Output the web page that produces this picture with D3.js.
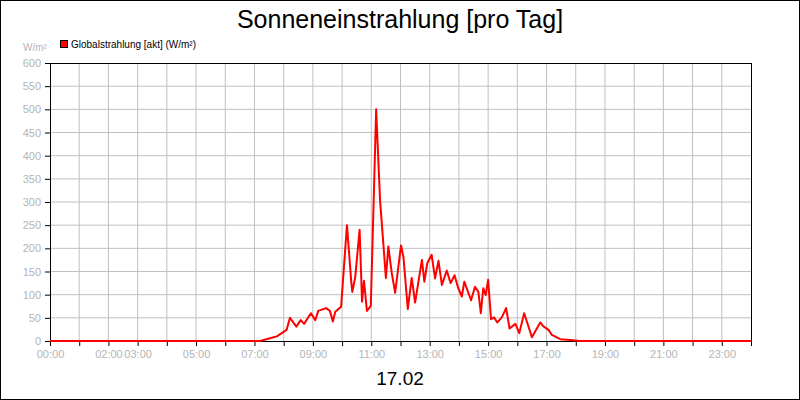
<!DOCTYPE html>
<html><head><meta charset="utf-8">
<script src="https://cdn.jsdelivr.net/npm/d3@7"></script>
<style>body{margin:0;background:#fff}svg{display:block;font-family:"Liberation Sans",Arial,sans-serif}</style>
</head><body><svg id="chart" width="800" height="400"></svg>
<script>
// Globalstrahlung readings (time of day, W/m²)
const times = ["00:00","06:30","07:12","07:32","07:46","07:56","08:06","08:13","08:26","08:35","08:42","08:56","09:05","09:11","09:27","09:35","09:41","09:46","09:58","10:10","10:19","10:21","10:27","10:36","10:41","10:45","10:51","10:59","11:10","11:18","11:30","11:35","11:42","11:49","12:01","12:06","12:15","12:23","12:30","12:44","12:49","12:55","13:04","13:11","13:18","13:25","13:35","13:43","13:51","13:58","14:06","14:11","14:25","14:33","14:40","14:45","14:50","14:55","15:00","15:06","15:12","15:19","15:28","15:37","15:44","15:56","16:04","16:14","16:30","16:47","16:53","17:04","17:11","17:28","17:49","18:09","24:00"];
const values = [0,0,0,6,10,17,24,50,31,45,37,60,45,65,71,65,42,63,74,250,126,106,138,240,85,130,65,76,500,304,136,204,147,104,206,182,69,136,83,175,128,168,186,135,173,121,152,125,142,116,96,128,88,117,106,60,114,99,132,47,51,40,51,71,27,37,17,60,8,40,32,24,13,4,2,0,0];
const tickHours = [0,2,3,5,7,9,11,13,15,17,19,21,23];
const yTicks = d3.range(0, 601, 50);

const svg = d3.select("#chart");
const plot = { left: 50, right: 751, top: 63, bottom: 341 };

const toHours = t => { const [h, m] = t.split(":").map(Number); return h + m / 60; };
const data = times.map((t, i) => ({ h: toHours(t), v: values[i] }));

const x = d3.scaleLinear().domain([0, 24]).range([plot.left, plot.right]);
const y = d3.scaleLinear().domain([0, 600]).range([plot.bottom, plot.top]);

// outer frame
svg.append("rect").attr("x", 0.5).attr("y", 0.5).attr("width", 799).attr("height", 399)
  .attr("fill", "none").attr("stroke", "#000");

// grid
svg.append("g").selectAll("line").data(d3.range(1, 24)).join("line")
  .attr("x1", d => x(d)).attr("x2", d => x(d)).attr("y1", plot.top).attr("y2", plot.bottom)
  .attr("stroke", "#c0c0c0");
svg.append("g").selectAll("line").data(yTicks.slice(1, -1)).join("line")
  .attr("x1", plot.left).attr("x2", plot.right).attr("y1", d => y(d)).attr("y2", d => y(d))
  .attr("stroke", "#c0c0c0");

// axes
const yAxis = svg.append("g").attr("transform", `translate(${plot.left},0)`)
  .call(d3.axisLeft(y).tickValues(yTicks).tickSize(5).tickPadding(4));
const xAxis = svg.append("g").attr("transform", `translate(0,${plot.bottom})`)
  .call(d3.axisBottom(x).tickValues(d3.range(0, 25)).tickSize(5).tickPadding(4)
    .tickFormat(d => tickHours.includes(d) ? String(d).padStart(2, "0") + ":00" : ""));
[yAxis, xAxis].forEach(a => {
  a.select(".domain").remove();
  a.selectAll("line").attr("stroke", "#000");
  a.selectAll("text").attr("fill", "#b4b4b4").style("font-size", "11px").attr("font-family", null);
});
svg.append("rect").attr("x", plot.left + 0.5).attr("y", plot.top + 0.5)
  .attr("width", plot.right - plot.left).attr("height", plot.bottom - plot.top)
  .attr("fill", "none").attr("stroke", "#000");

// line
svg.append("path").datum(data)
  .attr("d", d3.line().x(d => x(d.h)).y(d => y(d.v)))
  .attr("fill", "none").attr("stroke", "#ff0000").attr("stroke-width", 2)
  .attr("stroke-linejoin", "round");

// texts
svg.append("text").attr("x", 400).attr("y", 28).attr("text-anchor", "middle")
  .style("font-size", "25px").text("Sonneneinstrahlung [pro Tag]");
svg.append("text").attr("x", 400).attr("y", 385).attr("text-anchor", "middle")
  .style("font-size", "19px").text("17.02");
svg.append("text").attr("x", 23).attr("y", 51).attr("fill", "#b4b4b4")
  .style("font-size", "10px").text("W/m²");
svg.append("rect").attr("x", 60.5).attr("y", 40.5).attr("width", 7).attr("height", 7)
  .attr("fill", "#ff0000").attr("stroke", "#000");
svg.append("text").attr("x", 71).attr("y", 48).style("font-size", "10px")
  .text("Globalstrahlung [akt] (W/m²)");
</script></body></html>
